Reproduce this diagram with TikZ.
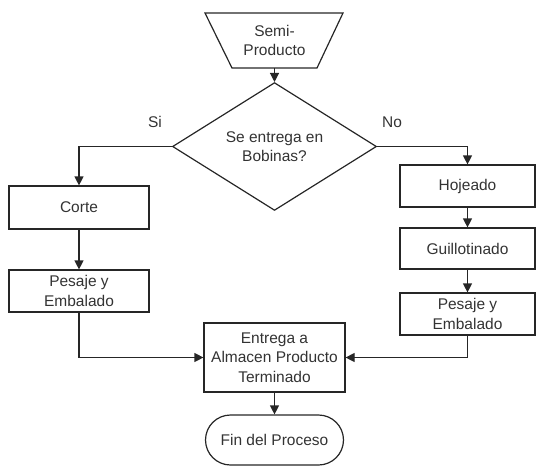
\documentclass[tikz,border=0pt]{standalone}
\usepackage{fontspec}
\setmainfont{Liberation Sans}
\usetikzlibrary{shapes.geometric,shapes.misc,arrows.meta}
\begin{document}
\begin{tikzpicture}[x=1pt,y=-1pt,
  every node/.style={font=\fontsize{15.5}{19.5}\selectfont, text=black!80},
  box/.style={draw=black!85, line width=1.2pt, rectangle, align=center, inner sep=0pt},
  conn/.style={draw=black!85, line width=1.2pt, -{Triangle[length=9pt,width=9pt]}},
  plain/.style={draw=black!85, line width=1.2pt}]
\useasboundingbox (0,0) rectangle (536,467);
% trapezoid
\draw[plain, line join=miter] (205,13) -- (343,13) -- (317,68) -- (232,68) -- cycle;
\node[align=center, minimum height=55pt, inner sep=0pt] (trap) at (274.5,40.5) {Semi-\\Producto};
% decision
\node[draw=black!85, line width=1.2pt, diamond, minimum width=204pt, minimum height=97pt, inner sep=0pt, align=center] (dia) at (274.5,146.5) {Se entrega en\\Bobinas?};
\node (si) at (155,122) {Si};
\node (no) at (392,122) {No};
% left column
\node[box, minimum width=140pt, minimum height=43pt] (corte) at (79,207.5) {Corte};
\node[box, minimum width=140pt, minimum height=42pt] (pesL) at (79,291) {Pesaje y\\Embalado};
% right column
\node[box, minimum width=135pt, minimum height=42pt] (hoj) at (467.5,186) {Hojeado};
\node[box, minimum width=135pt, minimum height=41pt] (guil) at (467.5,248.5) {Guillotinado};
\node[box, minimum width=135pt, minimum height=42pt] (pesR) at (467.5,314) {Pesaje y\\Embalado};
% bottom
\node[box, minimum width=141pt, minimum height=69pt] (ent) at (274.5,357.5) {Entrega a\\Almacen Producto\\Terminado};
\node[box, rounded rectangle, minimum width=138pt, minimum height=50pt] (fin) at (274.5,440) {Fin del Proceso};
% connectors
\draw[conn] (trap.south) -- (dia.north);
\draw[conn] (dia.west) -| (corte.north);
\draw[conn] (dia.east) -| (hoj.north);
\draw[conn] (corte.south) -- (pesL.north);
\draw[conn] (hoj.south) -- (guil.north);
\draw[conn] (guil.south) -- (pesR.north);
\draw[conn] (pesL.south) |- (ent.west);
\draw[conn] (pesR.south) |- (ent.east);
\draw[conn] (ent.south) -- (fin.north);
\end{tikzpicture}
\end{document}
